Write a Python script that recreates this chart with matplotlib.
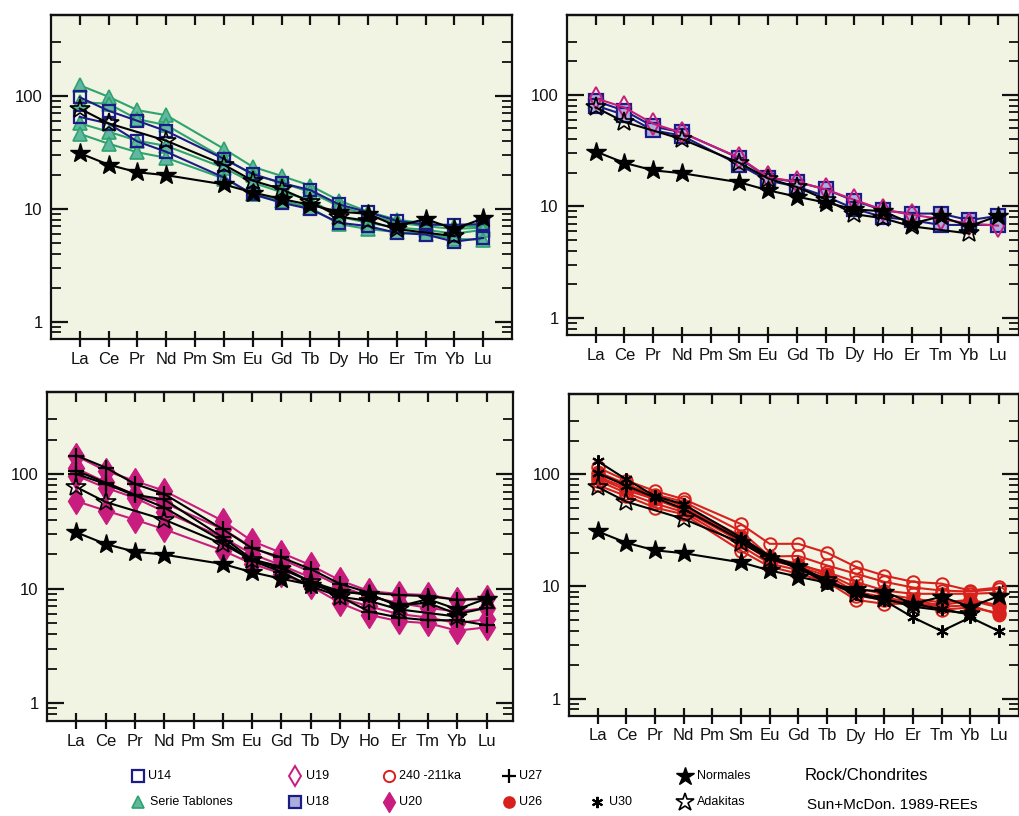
import numpy as np
import matplotlib
matplotlib.use('Agg')
import matplotlib.pyplot as plt
from matplotlib.lines import Line2D
from matplotlib.ticker import FixedLocator, NullFormatter

FONT = ['Liberation Sans Narrow', 'Liberation Sans', 'DejaVu Sans']
plt.rcParams['font.family'] = FONT

nan = np.nan
elements = ["La", "Ce", "Pr", "Nd", "Pm", "Sm", "Eu", "Gd", "Tb", "Dy", "Ho", "Er", "Tm", "Yb", "Lu"]

# Reference patterns (same in every panel)
normales = [31, 24.5, 21, 19.8, nan, 16.4, 13.9, 12.2, 10.8, 9.4, 9.0, 7.0, 8.1, 6.6, 8.2]
adakitas = [77, 57, nan, 40, nan, 24.5, 17.7, 14.9, 11.5, 8.5, 7.8, 6.6, nan, 5.7, nan]

# Panel 1
u14 = [
    [97, 73.6, 60, 48.7, nan, 27.6, 20.3, 16.9, 14.6, 10.9, 9.3, 7.8, 7.2, 7.2, 7.3],
    [65, 56.7, 39.4, 31.9, nan, 18.9, 13.4, 11.3, 9.9, 7.5, 7.0, 6.1, 5.9, 5.1, 5.5],
]
tablones = [
    [124, 98, 74.6, 67.3, nan, 33.9, 23.5, 19.5, 16.0, 11.8, 9.4, 8.0, 7.4, 7.0, 7.0],
    [88, 85, 62, 55, nan, 28, 20, 17, 14, 10.5, 8.8, 7.5, 7.0, 6.6, 6.8],
    [57, 48, 40, 36, nan, 23, 17, 14, 12, 8.5, 7.5, 6.8, 6.5, 6.0, 6.5],
    [46, 37.6, 31.6, 28.2, nan, 18.5, 13.5, 11.8, 10.2, 7.3, 6.6, 6.2, 6.0, 5.4, 5.3],
]

# Panel 2
u19 = [
    [93, 77, 55, 45.6, nan, 27.3, 18.2, 16.6, 14.2, 11.4, 9.3, 8.4, 7.7, 7.0, 6.7],
]
u18 = [
    [88, 72, 52, 46, nan, 27, 18, 16.5, 14.2, 11.2, 9.2, 8.6, 8.6, 7.5, 8.2],
    [80, 66, 48, 43, nan, 23.5, 17, 15, 12.3, 9.5, 8.0, 7.5, 6.8, 6.8, 6.8],
]

# Panel 3
u20 = [
    [144, 107, 87, 71.5, nan, 39, 26, 20.5, 16, 11.8, 9.5, 9.0, 8.8, 8.0, 8.3],
    [112, 85, 66, 56, nan, 33, 23, 18, 14, 10.5, 8.5, 7.5, 6.8, 6.3, 6.8],
    [97, 76, 62, 47, nan, 28, 20, 16, 12.5, 8.3, 7.0, 6.0, 5.6, 5.0, 5.4],
    [58, 48, 40, 33, nan, 21.5, 16.5, 13.5, 10.5, 7.5, 5.9, 5.2, 5.0, 4.3, 4.6],
]
u27 = [
    [145, 114, 82, 67, nan, 33, 22.5, 18.7, 14.8, 11.0, 9.2, 8.8, 8.6, 8.0, 8.1],
    [107, 84, 66, 60, nan, 28, 18, 15.5, 11.5, 9.5, 8.8, 7.2, 7.5, 6.0, 6.8],
    [100, 82, 65, 51, nan, 26, 17.5, 14, 10.5, 8.5, 6.3, 5.6, 5.3, 5.3, 4.8],
]

# Panel 4
ka240 = [
    [115, 88, 71, 60, nan, 36, 24, 24, 20, 15, 12.5, 11, 10.6, 9.2, 9.8],
    [100, 80, 66, 57, nan, 31, 18.5, 18.7, 15.4, 13, 11, 9.8, 9.2, 9.0, 9.5],
    [93, 72, 60, 50, nan, 27, 17, 15.5, 13.4, 11, 9.2, 8.6, 8.6, 8.6, 8.8],
    [88, 68, 55, 46, nan, 23, 16, 14, 12, 8.3, 7.6, 7.5, 6.8, 7.5, 6.5],
    [80, 64, 50.5, 44, nan, 20.8, 15, 13, 11, 7.6, 7.0, 7.0, 6.2, 6.5, 5.8],
]
u26 = [
    [105, 82, 64, 52, nan, 28, 18, 16, 13, 9.8, 8.5, 7.8, 7.2, 7.6, 6.8],
    [95, 76, 60, 48, nan, 25, 17, 15, 12.5, 9.0, 8.0, 7.2, 6.6, 6.8, 5.6],
]
u30 = [
    [131, 90, 64, 54, nan, 27.3, 18.7, 15.3, 11, 8.5, 7.5, 5.3, 4.0, 5.3, 4.0],
    [103, 79, 62, 49, nan, 26, 18, 14.5, 10.8, 9.0, 7.5, 7.0, 6.3, 5.6, nan],
]

# ---- styles ----
NAVY = '#1c1c86'
GREEN = '#2ea36e'
TEAL = '#62b7a3'
MAG = '#c81d7e'
RED = '#d8211c'
LAV = '#a9aedd'
BG = '#F1F4E3'

ST = {
    'u14': dict(color=NAVY, marker='s', mfc='none', mec=NAVY, ms=9, mew=1.6),
    'tab': dict(color=GREEN, marker='^', mfc=TEAL, mec=GREEN, ms=10, mew=1.2),
    'u19': dict(color=MAG, marker='d', mfc='none', mec=MAG, ms=11, mew=1.4),
    'u18': dict(color=NAVY, marker='s', mfc=LAV, mec=NAVY, ms=9.5, mew=1.6),
    'u20': dict(color=MAG, marker='d', mfc=MAG, mec=MAG, ms=13, mew=1.0),
    'u27': dict(color='black', marker='+', mfc='black', mec='black', ms=11, mew=1.6),
    'ka': dict(color=RED, marker='o', mfc='none', mec=RED, ms=9, mew=1.4),
    'u26': dict(color=RED, marker='o', mfc=RED, mec=RED, ms=9, mew=1.0),
    'u30': dict(color='black', marker=(6, 2, 0), mfc='black', mec='black', ms=9, mew=1.5),
    'nor': dict(color='black', marker='*', mfc='black', mec='black', ms=15, mew=1.0),
    'ada': dict(color='black', marker='*', mfc='none', mec='black', ms=15, mew=1.2),
}

x_all = np.arange(len(elements))
minor_ticks = [0.8, 0.9] + list(range(2, 10)) + list(range(20, 100, 10)) + [200, 300]


def draw(ax, series, key):
    y = np.asarray(series, dtype=float)
    m = ~np.isnan(y)
    ax.plot(x_all[m], y[m], lw=1.5, zorder=3, **ST[key])


def style_axes(ax, xmax):
    ax.set_facecolor(BG)
    ax.set_yscale('log')
    ax.set_ylim(0.7, 520)
    ax.set_xlim(-1, xmax)
    ax.set_xticks(x_all)
    ax.set_xticklabels(elements, fontsize=12)
    ax.yaxis.set_major_locator(FixedLocator([1, 10, 100]))
    ax.set_yticklabels(['1', '10', '100'], fontsize=12)
    ax.yaxis.set_minor_locator(FixedLocator(minor_ticks))
    ax.yaxis.set_minor_formatter(NullFormatter())
    ax.tick_params(axis='y', which='major', direction='in', length=12, width=1.6,
                   left=True, right=True, pad=6, colors='#111111')
    ax.tick_params(axis='y', which='minor', direction='in', length=7, width=1.3,
                   left=True, right=True, colors='#111111')
    ax.tick_params(axis='x', which='major', direction='inout', length=12, width=1.6,
                   top=False, pad=3, colors='#111111')
    ax.tick_params(axis='x', which='minor', bottom=False, top=False)
    sec = ax.secondary_xaxis('top')
    sec.set_xticks(x_all)
    sec.tick_params(direction='in', length=7, width=1.6, labeltop=False, colors='#111111')
    sec.spines['top'].set_linewidth(1.6)
    for s in ax.spines.values():
        s.set_linewidth(1.6)
        s.set_color('#111111')


W, H = 1020, 816
fig = plt.figure(figsize=(W / 100, H / 100), dpi=100)


def axes_px(left, right, top, bottom):
    return fig.add_axes([left / W, 1 - bottom / H, (right - left) / W, (bottom - top) / H])


ax1 = axes_px(51, 512, 15, 339)
ax2 = axes_px(567, 1019, 15, 335)
ax3 = axes_px(47, 513, 392, 721)
ax4 = axes_px(569, 1019, 394, 716)

style_axes(ax1, 15.0)
style_axes(ax2, 14.73)
style_axes(ax3, 14.9)
style_axes(ax4, 14.7)

for s in tablones:
    draw(ax1, s, 'tab')
for s in u14:
    draw(ax1, s, 'u14')

for s in u18:
    draw(ax2, s, 'u18')
for s in u19:
    draw(ax2, s, 'u19')

for s in u20:
    draw(ax3, s, 'u20')
for s in u27:
    draw(ax3, s, 'u27')

for s in ka240:
    draw(ax4, s, 'ka')
for s in u26:
    draw(ax4, s, 'u26')
for s in u30:
    draw(ax4, s, 'u30')

for ax in (ax1, ax2, ax3, ax4):
    draw(ax, adakitas, 'ada')
    draw(ax, normales, 'nor')

# ---- legend at the bottom ----
def leg_item(xm, ym, key, label, scale=0.9, tx=None):
    st = dict(ST[key])
    st['ms'] = st['ms'] * scale
    st.pop('color')
    fig.add_artist(Line2D([xm / W], [1 - ym / H], transform=fig.transFigure,
                          linestyle='none', **st))
    fig.text((tx if tx else xm + 10) / W, 1 - ym / H, label, fontsize=9,
             va='center', ha='left')


r1, r2 = 776, 802
leg_item(138, r1, 'u14', 'U14', scale=1.0, tx=148)
leg_item(138, r2, 'tab', 'Serie Tablones', tx=150)
leg_item(295, r1, 'u19', 'U19', tx=306)
leg_item(295, r2, 'u18', 'U18', tx=306)
leg_item(389, r1, 'ka', '240 -211ka', tx=399)
leg_item(389, r2, 'u20', 'U20', scale=0.75, tx=399)
leg_item(509, r1, 'u27', 'U27', tx=519)
leg_item(509, r2, 'u26', 'U26', tx=519)
leg_item(597, r2, 'u30', 'U30', tx=609)
leg_item(685, r1, 'nor', 'Normales', tx=697)
leg_item(685, r2, 'ada', 'Adakitas', tx=697)
fig.text(805 / W, 1 - 775 / H, 'Rock/Chondrites', fontsize=12, va='center', ha='left')
fig.text(807 / W, 1 - 805 / H, 'Sun+McDon. 1989-REEs', fontsize=11, va='center', ha='left')

fig.savefig('out.png', dpi=100, facecolor='white')
